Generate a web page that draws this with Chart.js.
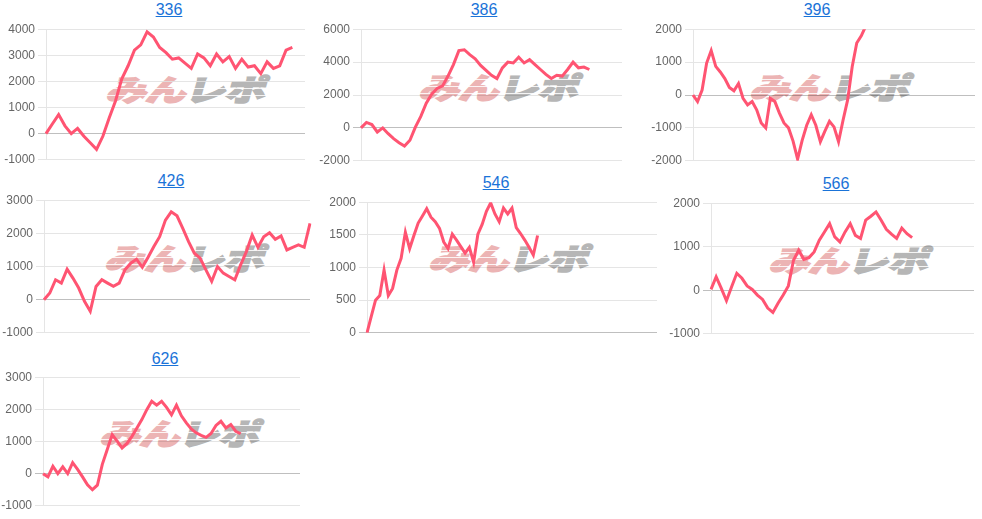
<!DOCTYPE html>
<html>
<head>
<meta charset="utf-8">
<script src="https://cdn.jsdelivr.net/npm/chart.js@4/dist/chart.umd.min.js"></script>
<style>
  html, body { margin: 0; padding: 0; background: #fff; }
  body { width: 982px; height: 519px; position: relative; overflow: hidden; font-family: Arial, "Liberation Sans", sans-serif; }
  .title { position: absolute; width: 100px; text-align: center; font-size: 16px; line-height: 16px; }
  .title a { color: #1a73d8; text-decoration: underline; }
  .wm { position: absolute; width: 170px; height: 34px; margin-left: -85px; margin-top: -17px;
        font: 900 37px/34px "Noto Sans CJK JP", sans-serif; letter-spacing: -1px; white-space: nowrap;
        text-align: center; transform: skewX(-16deg) scale(1.1, 0.8); }
  .wm .pink { color: #ecb4b4; -webkit-text-stroke: 2px #ecb4b4; }
  .wm .gray { color: #b6b6b6; -webkit-text-stroke: 2px #b6b6b6; }
  .wm::after { content: ''; position: absolute; left: -6px; right: -6px; top: 0; bottom: 0;
        background: repeating-linear-gradient(180deg, transparent 0 8px, rgba(255,255,255,0.85) 8px 9px); }
  .box { position: absolute; }
</style>
</head>
<body>
<script>
const LINE_COLOR = 'rgb(255, 84, 114)';

const TITLES = ['336', '386', '396', '426', '546', '566', '626'];

const VALUES_336 = [0, 370, 730, 300, 0, 200, -100, -350, -600, -100, 600, 1250, 2100, 2600, 3200, 3400, 3900, 3700, 3300, 3100,
  2850, 2900, 2700, 2500, 3050, 2900, 2600, 3050, 2750, 2950, 2500, 2850, 2550, 2600, 2300, 2750, 2500, 2600, 3200, 3300];
const VALUES_386 = [0, 330, 200, -250, 0, -350, -650, -900, -1100, -750, 50, 700, 1500, 2050, 2400, 2550, 3150, 3850, 4700, 4750,
  4450, 4200, 3800, 3500, 3200, 3000, 3650, 4000, 3950, 4300, 3950, 4150, 3850, 3550, 3250, 3000, 3200, 3150, 3550, 4000,
  3650, 3700, 3550];
const VALUES_396 = [0, -200, 150, 970, 1350, 870, 700, 500, 230, 130, 350, -100, -300, -200, -450, -850, -1000, -100, -200, -550,
  -850, -1000, -1400, -1950, -1380, -920, -600, -920, -1420, -1100, -800, -970, -1420, -760, -150, 860, 1580, 1800, 2100];
const VALUES_426 = [0, 200, 600, 500, 920, 650, 350, -50, -350, 400, 600, 500, 400, 500, 900, 1100, 1220, 980, 1280, 1600,
  1900, 2400, 2650, 2530, 2150, 1750, 1400, 1250, 900, 550, 1000, 800, 700, 600, 1050, 1450, 1950, 1580, 1900, 2020,
  1820, 1920, 1500, 1580, 1650, 1580, 2300];
const VALUES_546 = [0, 250, 500, 570, 960, 570, 680, 960, 1140, 1540, 1290, 1490, 1680, 1790, 1900, 1770, 1700, 1600, 1390, 1290,
  1510, 1420, 1320, 1220, 1310, 1080, 1510, 1660, 1860, 1990, 1820, 1700, 1910, 1820, 1910, 1610, 1520, 1420, 1310, 1190, 1490];
const VALUES_566 = [20, 310, 45, -240, 80, 390, 275, 100, 20, -110, -210, -410, -510, -300, -110, 100, 690, 920, 710, 750,
  880, 1150, 1340, 1530, 1225, 1110, 1340, 1530, 1260, 1190, 1610, 1700, 1800, 1610, 1400, 1290, 1190, 1430, 1300, 1210];
const VALUES_626 = [0, -100, 230, 0, 210, 0, 340, 130, -100, -350, -500, -360, 290, 750, 1215, 1010, 800, 940, 1160, 1420,
  1680, 1990, 2250, 2130, 2250, 2060, 1830, 2130, 1800, 1580, 1390, 1270, 1190, 1130, 1250, 1500, 1630, 1420, 1530, 1320, 1240];

// number of x slots (days) on each chart's axis
const DAYS = [42, 49, 63, 47, 69, 52, 53];
const Y_MIN = [-1000, -2000, -2000, -1000, 0, -1000, -1000];
const Y_MAX = [4000, 6000, 2000, 3000, 2000, 2000, 3000];
const Y_STEP = [1000, 2000, 1000, 1000, 500, 1000, 1000];

const SERIES = [VALUES_336, VALUES_386, VALUES_396, VALUES_426, VALUES_546, VALUES_566, VALUES_626];

// plot area (l, r, t, b), title centre and watermark centre for each chart
const LAYOUT = [
  { l: 46, r: 305, t: 29, b: 160, tx: 169, ty: 10, wx: 188, wy: 88 },
  { l: 361, r: 622, t: 29, b: 161, tx: 484, ty: 10, wx: 501, wy: 86 },
  { l: 693, r: 975, t: 29, b: 161, tx: 817, ty: 10, wx: 832, wy: 86 },
  { l: 44, r: 310, t: 200, b: 333, tx: 171, ty: 180.5, wx: 187, wy: 257 },
  { l: 367, r: 657, t: 202, b: 333, tx: 496, ty: 182.5, wx: 511, wy: 257 },
  { l: 711, r: 974, t: 203, b: 334, tx: 836, ty: 183.5, wx: 851, wy: 259 },
  { l: 43, r: 300, t: 377, b: 506, tx: 165, ty: 358.7, wx: 182, wy: 432 },
];

const AXIS_W = 46;
const PAD = 10;

function addChart(i) {
  const pos = LAYOUT[i];

  const title = document.createElement('div');
  title.className = 'title';
  title.style.left = (pos.tx - 50) + 'px';
  title.style.top = (pos.ty - 7.75) + 'px';
  title.innerHTML = `<a href="#">${TITLES[i]}</a>`;
  document.body.appendChild(title);

  const wm = document.createElement('div');
  wm.className = 'wm';
  wm.style.left = pos.wx + 'px';
  wm.style.top = pos.wy + 'px';
  wm.innerHTML = '<span class="pink">みん</span><span class="gray">レポ</span>';
  document.body.appendChild(wm);

  const box = document.createElement('div');
  box.className = 'box';
  box.style.left = (pos.l - AXIS_W) + 'px';
  box.style.top = (pos.t - PAD) + 'px';
  box.style.width = (pos.r - pos.l + AXIS_W + 2) + 'px';
  box.style.height = (pos.b - pos.t + PAD * 2) + 'px';
  const canvas = document.createElement('canvas');
  box.appendChild(canvas);
  document.body.appendChild(box);

  const labels = Array.from({ length: DAYS[i] }, (_, k) => k + 1);

  new Chart(canvas, {
    type: 'line',
    data: {
      labels,
      datasets: [{
        data: SERIES[i],
        borderColor: LINE_COLOR,
        backgroundColor: 'transparent',
        borderWidth: 3,
        pointRadius: 0,
        fill: false,
        tension: 0,
      }],
    },
    options: {
      animation: false,
      responsive: true,
      maintainAspectRatio: false,
      layout: { padding: { top: PAD, bottom: PAD, left: 0, right: 2 } },
      plugins: { legend: { display: false }, tooltip: { enabled: false } },
      scales: {
        x: { display: false },
        y: {
          min: Y_MIN[i],
          max: Y_MAX[i],
          ticks: {
            stepSize: Y_STEP[i],
            color: '#666',
            font: { size: 12, family: 'Arial, "Liberation Sans", sans-serif' },
            callback: v => String(v),
          },
          grid: {
            color: ctx => (ctx.tick && ctx.tick.value === 0 ? 'rgba(0,0,0,0.25)' : 'rgba(0,0,0,0.1)'),
          },
          border: { color: 'rgba(0,0,0,0.1)' },
          afterFit: scale => { scale.width = AXIS_W; },
        },
      },
    },
  });
}

for (let i = 0; i < SERIES.length; i++) addChart(i);
</script>
</body>
</html>
